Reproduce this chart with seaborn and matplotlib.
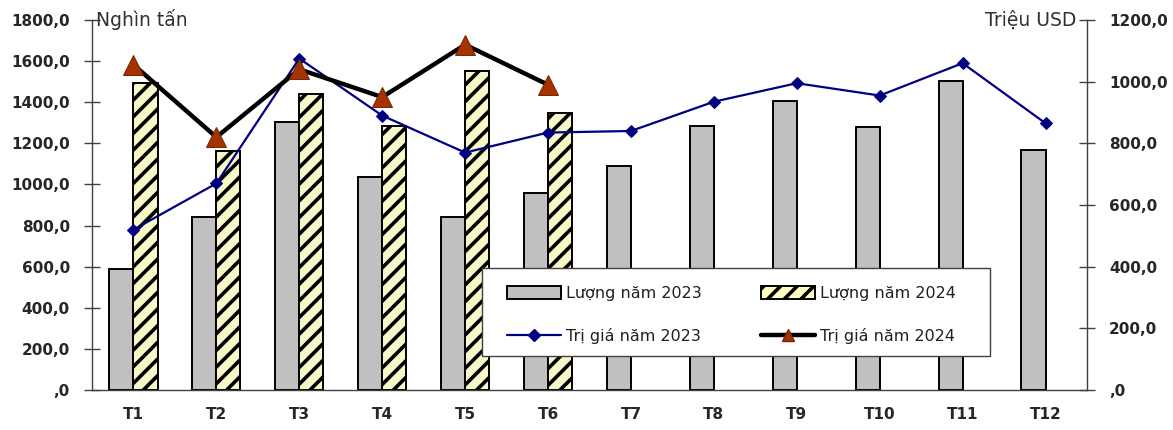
import numpy as np
import pandas as pd
import matplotlib
matplotlib.use("Agg")
import matplotlib.pyplot as plt
import seaborn as sns
from matplotlib.patches import Patch, Rectangle
from matplotlib.lines import Line2D

# Monthly export volume (thousand tonnes) and value (million USD)
months = ["T1", "T2", "T3", "T4", "T5", "T6", "T7", "T8", "T9", "T10", "T11", "T12"]
volume_2023 = [590, 840, 1305, 1035, 840, 960, 1090, 1285, 1405, 1280, 1505, 1170]
volume_2024 = [1495, 1165, 1440, 1285, 1550, 1350, np.nan, np.nan, np.nan, np.nan, np.nan, np.nan]
value_2023 = [520, 670, 1075, 890, 770, 835, 840, 935, 995, 955, 1060, 865]
value_2024 = [1055, 820, 1040, 950, 1120, 990, np.nan, np.nan, np.nan, np.nan, np.nan, np.nan]

left_ticks = [0, 200, 400, 600, 800, 1000, 1200, 1400, 1600, 1800]
right_ticks = [0, 200, 400, 600, 800, 1000, 1200]

lbl_vol23 = "Lượng năm 2023"
lbl_vol24 = "Lượng năm 2024"
lbl_val23 = "Trị giá năm 2023"
lbl_val24 = "Trị giá năm 2024"

sns.set_theme(style="white")
plt.rcParams["font.family"] = ["DejaVu Sans"]
plt.rcParams["hatch.linewidth"] = 2.6
plt.rcParams["hatch.color"] = "black"

bars = pd.DataFrame({
    "month": months * 2,
    "qty": volume_2023 + volume_2024,
    "series": [lbl_vol23] * 12 + [lbl_vol24] * 12,
})

W, H = 1173, 430
fig = plt.figure(figsize=(W / 100, H / 100), dpi=100)
ax = fig.add_axes([92 / W, 40 / H, 995 / W, 370 / H])

sns.barplot(data=bars, x="month", y="qty", hue="series", order=months,
            hue_order=[lbl_vol23, lbl_vol24],
            palette=["#C0C0C0", "#FFFFC0"], edgecolor="black", linewidth=1.4,
            width=0.58, gap=0, errorbar=None, legend=False, ax=ax)

# hatch the 2024 bars
for patch in ax.containers[1]:
    patch.set_hatch("//")

ax.set_xlim(-0.5, 11.5)
ax.set_ylim(0, 1800)
ax.set_yticks(left_ticks)
ax.set_yticklabels([(",0" if v == 0 else f"{v},0") for v in left_ticks])
ax.set_xlabel("")
ax.set_ylabel("")

ax2 = ax.twinx()
x_pos = np.arange(len(months))
sns.lineplot(x=x_pos, y=value_2023, ax=ax2, color="#000080", linewidth=1.6,
             marker="D", markersize=6, markeredgecolor="#000080", legend=False)
sns.lineplot(x=x_pos, y=value_2024, ax=ax2, color="black", linewidth=3.2,
             marker="^", markersize=14, markerfacecolor="#A33300",
             markeredgecolor="#7A2600", legend=False)
ax2.set_ylim(0, 1200)
ax2.set_yticks(right_ticks)
ax2.set_yticklabels([(",0" if v == 0 else f"{v},0") for v in right_ticks])
ax2.set_ylabel("")

# category boundary ticks on the x axis
ax.set_xticks(np.arange(12))
ax.set_xticklabels(months)
ax.set_xticks(np.arange(-0.5, 12.0, 1.0), minor=True)
ax.tick_params(axis="x", which="major", length=0, pad=12, labelsize=11)
ax.tick_params(axis="x", which="minor", direction="inout", length=13, width=1, color="#404040")
for t in ax.get_xticklabels():
    t.set_fontweight("bold")

for a, side in ((ax, "left"), (ax2, "right")):
    a.tick_params(axis="y", direction="inout", length=12, width=1, color="#404040",
                  labelsize=11, pad=10)
    for t in a.get_yticklabels():
        t.set_fontweight("bold")
    for s in a.spines.values():
        s.set_visible(False)
    a.spines[side].set_visible(True)
    a.spines[side].set_color("#404040")
    a.spines[side].set_linewidth(1)
    a.grid(False)
ax.spines["bottom"].set_visible(True)
ax.spines["bottom"].set_color("#404040")
ax.spines["bottom"].set_linewidth(1)
ax.tick_params(axis="y", left=True, right=False)
ax2.tick_params(axis="y", left=False, right=True)

fig.text(96 / W, 1 - 20 / H, "Nghìn tấn", fontsize=13.5, color="#303030",
         ha="left", va="center")
fig.text(1076 / W, 1 - 20 / H, "Triệu USD", fontsize=13.5, color="#303030",
         ha="right", va="center")

# legend box
fig.patches.append(Rectangle((482 / W, 1 - 356 / H), 508 / W, 88 / H,
                             transform=fig.transFigure, facecolor="white",
                             edgecolor="#404040", linewidth=1, zorder=4))

handles = [
    Patch(facecolor="#C0C0C0", edgecolor="black", linewidth=1.4, label=lbl_vol23),
    Line2D([], [], color="#000080", linewidth=1.6, marker="D", markersize=6, label=lbl_val23),
    Patch(facecolor="#FFFFC0", edgecolor="black", linewidth=1.4, hatch="//", label=lbl_vol24),
    Line2D([], [], color="black", linewidth=3.2, marker="^", markersize=9,
           markerfacecolor="#A33300", markeredgecolor="#7A2600", label=lbl_val24),
]
leg = fig.legend(handles=handles, ncol=2,
                 bbox_to_anchor=(507 / W, 1 - 286 / H),
                 loc="upper left", frameon=False,
                 fontsize=11.5, handlelength=3.4, handleheight=0.9,
                 handletextpad=0.3, borderpad=0, labelspacing=1.7, columnspacing=3.7,
                 borderaxespad=0)
leg.set_zorder(5)
for t in leg.get_texts():
    t.set_color("#202020")

fig.savefig("out.png", dpi=100)
